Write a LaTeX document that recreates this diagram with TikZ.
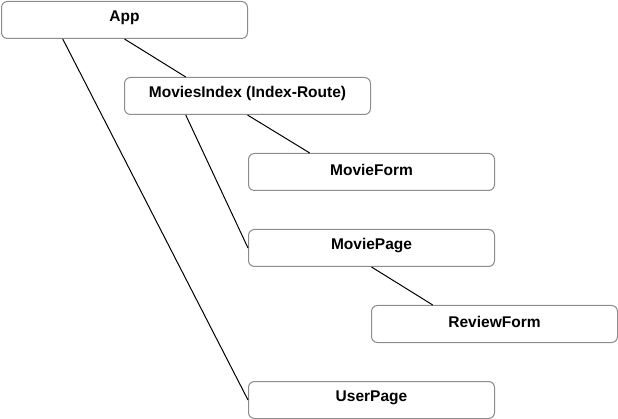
\documentclass[tikz,border=0pt]{standalone}
\usepackage{fontspec}
\setmainfont{Liberation Sans}
\usetikzlibrary{calc}
\definecolor{boxline}{RGB}{140,140,140}
\tikzset{
  box/.style={draw=boxline, line width=1pt, rounded corners=6pt, fill=white,
    minimum width=246pt, minimum height=37pt, inner sep=0pt, anchor=north west,
    font=\fontsize{15.5pt}{18pt}\selectfont\bfseries},
  lbl/.style={font=\fontsize{15.5pt}{18pt}\selectfont\bfseries, inner sep=0pt},
  conn/.style={draw=black, line width=1pt}
}
\begin{document}
\begin{tikzpicture}[x=1pt,y=-1pt]
\useasboundingbox (0,0) rectangle (618,419);
\node[box] (app) at (1,1) {};
\node[box] (idx) at (124,77) {};
\node[box] (form) at (248,153) {};
\node[box] (page) at (248,229) {};
\node[box] (review) at (371,305) {};
\node[box] (user) at (248,381) {};
\node[lbl] (tapp) at ([yshift=2.5pt]app.center) {App};
\node[lbl] (tidx) at ([yshift=2.5pt]idx.center) {MoviesIndex (Index-Route)};
\node[lbl] (tform) at ([yshift=2.5pt]form.center) {MovieForm};
\node[lbl] (tpage) at ([yshift=2.5pt]page.center) {MoviePage};
\node[lbl] (treview) at ([yshift=2.5pt]review.center) {ReviewForm};
\node[lbl] (tuser) at ([yshift=2.5pt]user.center) {UserPage};
\draw[conn] ($(app.south west)!0.5!(app.south east)$) -- ($(idx.north west)!0.25!(idx.north east)$);
\draw[conn] ($(app.south west)!0.25!(app.south east)$) -- (user.west);
\draw[conn] ($(idx.south west)!0.5!(idx.south east)$) -- ($(form.north west)!0.25!(form.north east)$);
\draw[conn] ($(idx.south west)!0.25!(idx.south east)$) -- (page.west);
\draw[conn] ($(page.south west)!0.5!(page.south east)$) -- ($(review.north west)!0.25!(review.north east)$);
\end{tikzpicture}
\end{document}
